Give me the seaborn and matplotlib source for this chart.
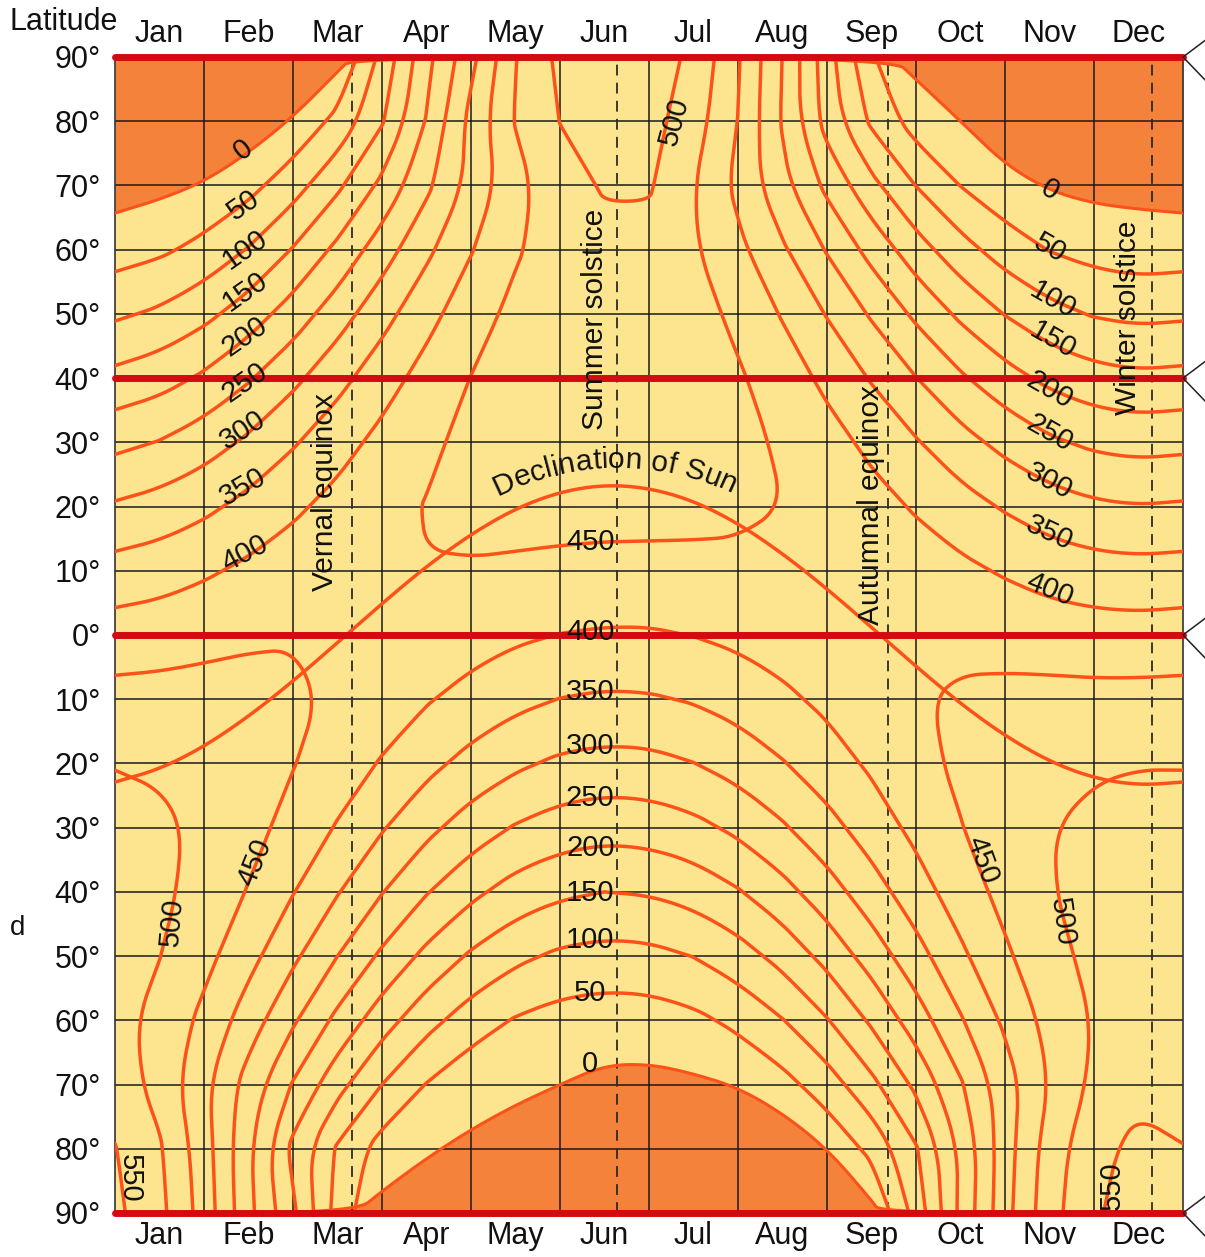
import numpy as np
import matplotlib
matplotlib.use("Agg")
import matplotlib.pyplot as plt
from matplotlib.font_manager import FontProperties
import seaborn as sns

# Daily solar radiation at the top of the atmosphere (W/m2)
months = ['Jan', 'Feb', 'Mar', 'Apr', 'May', 'Jun', 'Jul', 'Aug', 'Sep', 'Oct', 'Nov', 'Dec']
# sample times in months (0 = 1 Jan, 12 = 31 Dec), half-month steps
time = [0, 0.5, 1, 1.5, 2, 2.5, 3, 3.5, 4, 4.5, 5, 5.5, 6,
        6.5, 7, 7.5, 8, 8.5, 9, 9.5, 10, 10.5, 11, 11.5, 12]
lats = [90, 80, 70, 60, 50, 40, 30, 20, 10, 0, -10, -20, -30, -40, -50, -60, -70, -80, -90]

n90 = [0, 0, 0, 0, 0, 0, 115, 235, 335, 448, 512, 536, 525, 490, 405, 299, 172, 55, 0, 0, 0, 0, 0, 0, 0]
n80 = [0, 0, 0, 0, 11, 64, 145, 253, 366, 453, 501, 528, 517, 474, 399, 295, 180, 91, 27, 0, 0, 0, 0, 0, 0]
n70 = [0, 0, 7, 34, 79, 140, 212, 289, 364, 432, 483, 504, 506, 452, 387, 314, 238, 164, 99, 49, 15, 0, 0, 0, 0]
n60 = [28, 41, 65, 103, 153, 212, 276, 339, 397, 444, 475, 488, 481, 455, 412, 357, 296, 233, 172, 119, 77, 48, 32, 25, 28]
n50 = [92, 108, 136, 175, 223, 277, 332, 384, 428, 463, 485, 494, 488, 470, 438, 396, 347, 294, 240, 190, 148, 116, 96, 88, 92]
n40 = [164, 180, 208, 245, 288, 334, 379, 418, 451, 475, 489, 495, 491, 478, 456, 426, 388, 346, 301, 257, 219, 188, 168, 160, 164]
n30 = [237, 252, 277, 309, 345, 381, 414, 441, 462, 476, 484, 486, 484, 476, 463, 444, 419, 388, 354, 318, 285, 258, 240, 233, 237]
n20 = [306, 319, 339, 365, 391, 416, 437, 452, 461, 466, 467, 467, 466, 463, 458, 450, 436, 418, 395, 370, 345, 323, 308, 302, 306]
n10 = [369, 378, 393, 410, 426, 439, 447, 449, 447, 443, 439, 436, 436, 438, 441, 442, 441, 436, 425, 411, 395, 380, 370, 366, 369]
eq0 = [423, 428, 436, 444, 448, 448, 443, 433, 421, 408, 399, 395, 395, 401, 411, 423, 433, 440, 442, 440, 434, 427, 422, 420, 423]
s10 = [466, 467, 468, 465, 457, 444, 426, 404, 383, 363, 349, 343, 345, 354, 370, 390, 411, 431, 446, 456, 461, 464, 464, 465, 466]
s20 = [498, 494, 486, 472, 452, 426, 396, 364, 334, 309, 291, 284, 286, 299, 320, 347, 378, 408, 436, 459, 476, 487, 494, 498, 498]
s30 = [517, 509, 491, 466, 434, 396, 354, 313, 276, 246, 227, 218, 222, 236, 261, 294, 333, 374, 413, 448, 477, 498, 512, 518, 517]
s40 = [525, 510, 484, 447, 402, 353, 302, 253, 212, 179, 159, 150, 154, 169, 196, 233, 278, 328, 378, 425, 465, 497, 518, 527, 525]
s50 = [522, 501, 465, 416, 360, 300, 241, 187, 143, 111, 91, 83, 86, 101, 128, 167, 216, 272, 331, 390, 442, 484, 513, 526, 522]
s60 = [514, 486, 437, 375, 307, 237, 172, 117, 75, 46, 30, 24, 26, 38, 62, 98, 147, 208, 275, 345, 409, 465, 503, 520, 514]
s70 = [527, 483, 411, 329, 246, 167, 100, 48, 15, 0, 0, 0, 0, 0, 7, 33, 76, 137, 211, 294, 376, 452, 511, 537, 527]
s80 = [552, 506, 423, 309, 186, 93, 28, 0, 0, 0, 0, 0, 0, 0, 0, 0, 11, 63, 145, 257, 378, 474, 536, 563, 552]
s90 = [561, 514, 429, 314, 210, 80, 0, 0, 0, 0, 0, 0, 0, 0, 0, 0, 0, 0, 119, 261, 383, 481, 544, 572, 561]

# declination of the sun (degrees) at the same times
declination = [-22.9, -20.9, -17.4, -12.7, -7.2, -1.2, 4.9, 10.7, 15.7, 19.7, 22.3, 23.4, 22.9,
               20.9, 17.4, 12.7, 7.2, 1.2, -4.9, -10.7, -15.7, -19.7, -22.3, -23.4, -22.9]

# edge of the zero-radiation (polar night) areas
north_night_t = [0, 0.5, 1, 1.5, 2, 2.5, 2.67, 8.73, 9, 9.5, 10, 10.5, 11, 11.5, 12]
north_night_lat = [65.7, 67.8, 70.6, 75.1, 80.7, 87.7, 90, 90, 86.5, 80, 73.3, 69.2, 67.2, 66.3, 65.7]
south_night_t = [0, 2.7, 3, 3.5, 4, 4.5, 5, 5.5, 6, 6.5, 7, 7.5, 8, 8.5, 8.6, 12]
south_night_lat = [-90, -90, -86.6, -81.5, -77, -73.2, -70, -67, -66.8, -68.3, -70.5, -74.5, -80, -88, -90, -90]

levels = [50, 100, 150, 200, 250, 300, 350, 400, 450, 500, 550]
season_x = [2.66, 5.64, 8.69, 11.65]
red_lats = [90, 40, 0, -90]

grid = np.array([n90, n80, n70, n60, n50, n40, n30, n20, n10, eq0,
                 s10, s20, s30, s40, s50, s60, s70, s80, s90])

YELLOW = '#fce58e'
DARK = '#f5823a'
LINE = '#fc5219'
RED = '#d40a12'
INK = '#111111'


def rounded(pts, passes=4):
    # corner cutting so the drawn lines bend smoothly like the hand-drawn original
    pts = np.asarray(pts, dtype=float)
    if len(pts) < 3:
        return pts
    closed = np.allclose(pts[0], pts[-1])
    for _ in range(passes):
        if closed:
            p = pts[:-1]
            nxt = np.roll(p, -1, axis=0)
            out = np.empty((2 * len(p), 2))
            out[0::2] = 0.75 * p + 0.25 * nxt
            out[1::2] = 0.25 * p + 0.75 * nxt
            pts = np.vstack([out, out[:1]])
        else:
            a, b = pts[:-1], pts[1:]
            out = np.empty((2 * len(a), 2))
            out[0::2] = 0.75 * a + 0.25 * b
            out[1::2] = 0.25 * a + 0.75 * b
            pts = np.vstack([pts[:1], out, pts[-1:]])
    return pts


sns.set_theme(style="white")
plt.rcParams['font.family'] = ['Liberation Sans', 'DejaVu Sans']

W, H = 1205, 1257
fig = plt.figure(figsize=(W / 100, H / 100), dpi=100)
ax = fig.add_axes([115 / W, 44 / H, 1068 / W, 1156 / H])
ax.set_facecolor(YELLOW)
ax.set_xlim(0, 12)
ax.set_ylim(-90, 90)
ax.grid(False)

# polar night areas
north_edge = rounded(np.column_stack([north_night_t, north_night_lat]))
south_edge = rounded(np.column_stack([south_night_t, south_night_lat]))
ax.fill_between(north_edge[:, 0], north_edge[:, 1], 90, color=DARK, lw=0, zorder=1)
ax.fill_between(south_edge[:, 0], south_edge[:, 1], -90, color=DARK, lw=0, zorder=1)
sns.lineplot(x=north_edge[:, 0], y=north_edge[:, 1], ax=ax, color=LINE, lw=2.2,
             estimator=None, sort=False, zorder=3)
sns.lineplot(x=south_edge[:, 0], y=south_edge[:, 1], ax=ax, color=LINE, lw=2.2,
             estimator=None, sort=False, zorder=3)

# grid
for m in range(1, 12):
    ax.axvline(m, color='#1a1a1a', lw=1.1, zorder=2)
for v in range(-80, 90, 10):
    ax.axhline(v, color='#1a1a1a', lw=1.1, zorder=2)
for x in season_x:
    ax.axvline(x, color='#2a2a2a', lw=1.3, ls=(0, (6, 4)), zorder=2)

# isolines: let matplotlib trace them, then draw them with rounded corners
cs = ax.contour(time, lats, grid, levels=levels)
segments = [seg for level_segs in cs.allsegs for seg in level_segs]
cs.remove()
for seg in segments:
    p = rounded(seg)
    ax.plot(p[:, 0], p[:, 1], color=LINE, lw=2.5, zorder=3, solid_capstyle='round')

sun = rounded(np.column_stack([time, declination]))
sns.lineplot(x=sun[:, 0], y=sun[:, 1], ax=ax, color=LINE, lw=2.5, estimator=None, sort=False, zorder=3)

for v in red_lats:
    ax.axhline(v, color=RED, lw=5, zorder=4, clip_on=False)
    ax.plot([12.25, 12, 12.25], [v + 2.6, v, v - 3.6], color='#222222', lw=1.1,
            clip_on=False, zorder=4)

# axes labels
ax.set_xticks([m + 0.5 for m in range(12)])
ax.set_xticklabels(months)
lat_ticks = list(range(90, -91, -10))
ax.set_yticks(lat_ticks)
ax.set_yticklabels([f"{abs(v)}°" for v in lat_ticks])
ax.tick_params(axis='x', top=True, labeltop=True, bottom=True, labelbottom=True,
               length=0, pad=6, labelsize=22, colors=INK)
ax.tick_params(axis='y', length=0, pad=10, labelsize=22, colors=INK)
for side in ['left', 'right']:
    ax.spines[side].set_color('#333333')
    ax.spines[side].set_linewidth(1.2)
for side in ['top', 'bottom']:
    ax.spines[side].set_visible(False)

fig.text(10 / W, 1 - 22 / H, 'Latitude', fontsize=22, ha='left', va='center', color=INK)
fig.text(18 / W, 1 - 928 / H, 'd', fontsize=20, ha='center', va='center', color=INK)

# isoline labels: (text, month position, latitude, rotation)
labels = [
    ('0', 1.44, 75.5, 38), ('50', 1.44, 67.0, 35), ('100', 1.46, 60.0, 35),
    ('150', 1.46, 53.5, 35), ('200', 1.46, 46.4, 35), ('250', 1.46, 39.3, 35),
    ('300', 1.44, 31.9, 33), ('350', 1.44, 23.0, 30), ('400', 1.46, 12.7, 28),
    ('0', 10.5, 69.3, -30), ('50', 10.5, 60.3, -30), ('100', 10.54, 52.2, -30),
    ('150', 10.54, 45.9, -30), ('200', 10.5, 38.1, -30), ('250', 10.5, 31.4, -30),
    ('300', 10.5, 24.0, -28), ('350', 10.5, 15.9, -25), ('400', 10.5, 7.0, -22),
    ('450', 5.34, 14.5, 0), ('400', 5.34, 0.5, 0), ('350', 5.34, -8.9, 0),
    ('300', 5.34, -17.3, 0), ('250', 5.34, -25.4, 0), ('200', 5.34, -33.2, 0),
    ('150', 5.34, -40.2, 0), ('100', 5.34, -47.5, 0), ('50', 5.34, -55.8, 0),
    ('0', 5.34, -66.8, 0),
    ('500', 6.29, 79.9, 75), ('450', 1.57, -35.4, 68), ('500', 0.64, -44.7, 85),
    ('450', 9.74, -35.0, -70), ('500', 10.64, -44.7, -82),
    ('550', 0.17, -84.6, -90), ('550', 11.2, -85.7, 90),
]
for s, x, y, r in labels:
    ax.text(x, y, s, fontsize=21, rotation=r, ha='center', va='center',
            rotation_mode='anchor', color=INK, zorder=6)

# season labels
seasons = [('Vernal equinox', 2.36, 22.3), ('Summer solstice', 5.39, 49.1),
           ('Autumnal equinox', 8.49, 20.2), ('Winter solstice', 11.38, 49.4)]
for s, x, y in seasons:
    ax.text(x, y, s, fontsize=21.5, rotation=90, ha='center', va='center',
            color=INK, zorder=6)


# curved "Declination of Sun" label
def arc_text(text, cx, cy, radius, size, mid_deg):
    fp = FontProperties(family=['Liberation Sans', 'DejaVu Sans'], size=size)
    renderer = fig.canvas.get_renderer()
    widths = []
    for ch in text:
        if ch == ' ':
            w = renderer.get_text_width_height_descent('n', fp, ismath=False)[0] * 0.5
        else:
            w = renderer.get_text_width_height_descent(ch, fp, ismath=False)[0]
        widths.append(w)
    ang = np.radians(mid_deg) - sum(widths) / radius / 2
    for ch, w in zip(text, widths):
        a = ang + w / 2 / radius
        px = cx + radius * np.sin(a)
        py = cy + radius * np.cos(a)
        fig.text(px / W, py / H, ch, fontproperties=fp, rotation=-np.degrees(a),
                 rotation_mode='anchor', ha='center', va='baseline', color=INK, zorder=6)
        ang += w / radius


arc_text('Declination of Sun', 617.3, H - 728.5, 260.8, 21.5, -0.5)

fig.savefig('out.png', dpi=100, facecolor='white')
